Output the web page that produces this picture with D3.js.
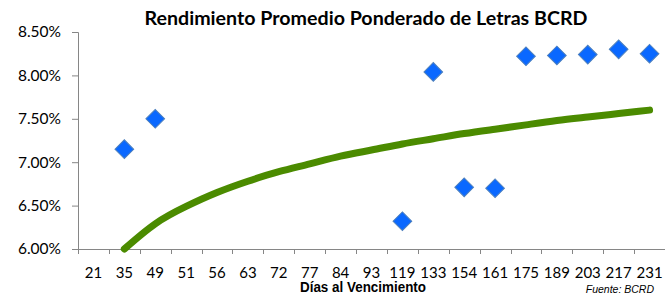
<!DOCTYPE html>
<html>
<head>
<meta charset="utf-8">
<script src="https://cdn.jsdelivr.net/npm/d3@7"></script>
<style>
  body { margin: 0; background: #fff; }
  svg { display: block; }
</style>
</head>
<body>
<div id="chart"></div>
<script>
// categories (días al vencimiento)
var dias = ["21", "35", "49", "51", "56", "63", "72", "77", "84", "93", "119", "133", "154", "161", "175", "189", "203", "217", "231"];

// rendimiento observado (%), null = sin dato
var rendimiento = [null, 7.15, 7.50, null, null, null, null, null, null, null, 6.32, 8.04, 6.71, 6.70, 8.22, 8.23, 8.24, 8.30, 8.25];

// tendencia logarítmica (%)
var tendencia = [null, 6.00, 6.29, 6.49, 6.65, 6.78, 6.89, 6.98, 7.07, 7.14, 7.21, 7.27, 7.33, 7.38, 7.43, 7.48, 7.52, 7.56, 7.60];

var yTicks = [6.0, 6.5, 7.0, 7.5, 8.0, 8.5];

var svgWidth = 665;
var svgHeight = 296;

var margin = { top: 32, right: 0, bottom: 47, left: 78 };
var width = svgWidth - margin.left - margin.right;
var height = svgHeight - margin.top - margin.bottom;

var svg = d3.select("#chart")
    .append("svg")
    .attr("width", svgWidth)
    .attr("height", svgHeight);

var chartGroup = svg.append("g")
    .attr("transform", `translate(${margin.left}, ${margin.top})`);

// scales
var xScale = d3.scaleBand()
    .domain(dias)
    .range([0, width])
    .padding(0);

var yScale = d3.scaleLinear()
    .domain([6.0, 8.5])
    .range([height, 0]);

var axisColor = "#868686";

// y axis
var leftAxis = d3.axisLeft(yScale)
    .tickValues(yTicks)
    .tickSize(6)
    .tickPadding(11)
    .tickFormat(d => d.toFixed(2) + "%");

var yAxisG = chartGroup.append("g").call(leftAxis);
yAxisG.select(".domain").attr("stroke", axisColor).attr("d", `M-6,0.5H0.5V${height}`);
yAxisG.selectAll(".tick line").attr("stroke", axisColor);
yAxisG.selectAll(".tick text")
    .attr("font-family", "Lato, 'Open Sans', sans-serif")
    .attr("font-size", "15.5px")
    .attr("fill", "#000");

// x axis (labels centered, ticks on band boundaries)
var bottomAxis = d3.axisBottom(xScale)
    .tickSize(0)
    .tickPadding(18);

var xAxisG = chartGroup.append("g")
    .attr("transform", `translate(0, ${height})`)
    .call(bottomAxis);
xAxisG.select(".domain").attr("stroke", axisColor).attr("d", `M0,0.5H${width}`);
xAxisG.selectAll(".tick text")
    .attr("font-family", "Lato, 'Open Sans', sans-serif")
    .attr("font-size", "15px")
    .attr("fill", "#000");

var bounds = dias.map(d => xScale(d)).concat([width]);
xAxisG.selectAll("line.bound")
    .data(bounds)
    .enter()
    .append("line")
    .attr("class", "bound")
    .attr("x1", d => Math.round(d) + 0.5)
    .attr("x2", d => Math.round(d) + 0.5)
    .attr("y1", 0)
    .attr("y2", 5)
    .attr("stroke", axisColor);

// trend line
var trendData = dias.map((d, i) => ({ dia: d, v: tendencia[i] })).filter(d => d.v !== null);
var line = d3.line()
    .x(d => xScale(d.dia) + xScale.bandwidth() / 2)
    .y(d => yScale(d.v))
    .curve(d3.curveNatural);

chartGroup.append("path")
    .datum(trendData)
    .attr("d", line)
    .attr("fill", "none")
    .attr("stroke", "#4b8b00")
    .attr("stroke-width", 7)
    .attr("stroke-linecap", "round");

// points
var pts = dias.map((d, i) => ({ dia: d, v: rendimiento[i] })).filter(d => d.v !== null);
var diamond = d3.symbol().type(d3.symbolSquare).size(175);

chartGroup.selectAll("path.pt")
    .data(pts)
    .enter()
    .append("path")
    .attr("class", "pt")
    .attr("d", diamond)
    .attr("transform", d => `translate(${xScale(d.dia) + xScale.bandwidth() / 2}, ${yScale(d.v)}) rotate(45)`)
    .attr("fill", "#0a68ff")
    .attr("stroke", "#4f81bd")
    .attr("stroke-width", 1);

// title
svg.append("text")
    .attr("x", 366)
    .attr("y", 25)
    .attr("text-anchor", "middle")
    .attr("font-family", "Lato, 'Open Sans', sans-serif")
    .attr("font-weight", "bold")
    .attr("font-size", "18px")
    .attr("fill", "#000")
    .attr("textLength", 443)
    .attr("lengthAdjust", "spacingAndGlyphs")
    .text("Rendimiento Promedio Ponderado de Letras BCRD");

// x axis title
svg.append("text")
    .attr("x", 363)
    .attr("y", 292)
    .attr("text-anchor", "middle")
    .attr("font-family", "'Liberation Sans Narrow', 'Liberation Sans', Arial, sans-serif")
    .attr("font-weight", "bold")
    .attr("font-size", "14.5px")
    .attr("fill", "#000")
    .attr("textLength", 126)
    .attr("lengthAdjust", "spacingAndGlyphs")
    .text("Días al Vencimiento");

// source
svg.append("text")
    .attr("x", 654)
    .attr("y", 293)
    .attr("text-anchor", "end")
    .attr("font-family", "'Liberation Sans', Arial, sans-serif")
    .attr("font-style", "italic")
    .attr("font-size", "10.5px")
    .attr("fill", "#000")
    .text("Fuente:  BCRD");
</script>
</body>
</html>
